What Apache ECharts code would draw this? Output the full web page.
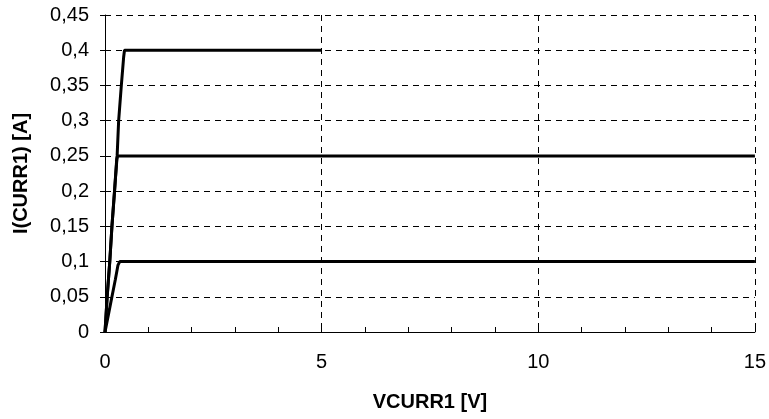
<!DOCTYPE html>
<html><head><meta charset="utf-8">
<script src="https://cdn.jsdelivr.net/npm/echarts@6/dist/echarts.min.js"></script>
<style>html,body{margin:0;padding:0;background:#fff}#c{width:769px;height:419px}</style>
</head><body><div id="c"></div>
<script>
// Series at 0.4 A
const s04_V = [0, 0.05, 0.11, 0.16, 0.22, 0.28, 0.315, 0.377, 0.43, 0.45, 5];
const s04_I = [0, 0.05, 0.10, 0.15, 0.20, 0.25, 0.30, 0.35, 0.39, 0.40, 0.40];
// Series at 0.25 A
const s025_V = [0, 0.05, 0.11, 0.16, 0.22, 0.27, 0.29, 15];
const s025_I = [0, 0.05, 0.10, 0.15, 0.20, 0.245, 0.25, 0.25];
// Series at 0.1 A
const s01_V = [0, 0.08, 0.16, 0.24, 0.30, 0.34, 15];
const s01_I = [0, 0.025, 0.05, 0.075, 0.095, 0.10, 0.10];

const xTitle = 'VCURR1 [V]';
const yTitle = 'I(CURR1) [A]';

function pts(xs, ys){ return xs.map((x,i)=>[x, ys[i]]); }

const chart = echarts.init(document.getElementById('c'), null, {renderer:'canvas'});
const font = 'Liberation Sans, Arial, sans-serif';
const lineS = {color:'#000', width:3};
const dash = {color:'#000', width:1, type:[6,5]};
chart.setOption({
  animation:false,
  backgroundColor:'#fff',
  grid:{left:105, right:14, top:15, bottom:87, containLabel:false},
  xAxis:{
    type:'value', min:0, max:15, interval:5,
    name:xTitle, nameLocation:'middle', nameGap:60,
    nameTextStyle:{fontFamily:font, fontSize:20, fontWeight:'bold', color:'#000'},
    axisLine:{show:true, onZero:false, lineStyle:{color:'#000', width:1}},
    axisTick:{show:true, inside:true, length:5, lineStyle:{color:'#000'}},
    minorTick:{show:true, splitNumber:5, length:5, lineStyle:{color:'#000'}},
    axisLabel:{margin:20, fontFamily:font, fontSize:20, color:'#000'},
    splitLine:{show:true, lineStyle:dash}
  },
  yAxis:{
    type:'value', min:0, max:0.45, interval:0.05,
    name:yTitle, nameLocation:'middle', nameGap:74, nameRotate:90,
    nameTextStyle:{fontFamily:font, fontSize:20, fontWeight:'bold', color:'#000'},
    axisLine:{show:true, onZero:false, lineStyle:{color:'#000', width:1}},
    axisTick:{show:true, inside:false, length:5, lineStyle:{color:'#000'}},
    axisLabel:{margin:16, fontFamily:font, fontSize:20, color:'#000',
      formatter:v=>String(+(+v).toFixed(2)).replace('.', ',')},
    splitLine:{show:true, lineStyle:dash}
  },
  series:[
    {type:'line', data:pts(s01_V, s01_I), showSymbol:false, lineStyle:lineS, z:3},
    {type:'line', data:pts(s025_V, s025_I), showSymbol:false, lineStyle:lineS, z:3},
    {type:'line', data:pts(s04_V, s04_I), showSymbol:false, lineStyle:lineS, z:3}
  ]
});
</script>
</body></html>
